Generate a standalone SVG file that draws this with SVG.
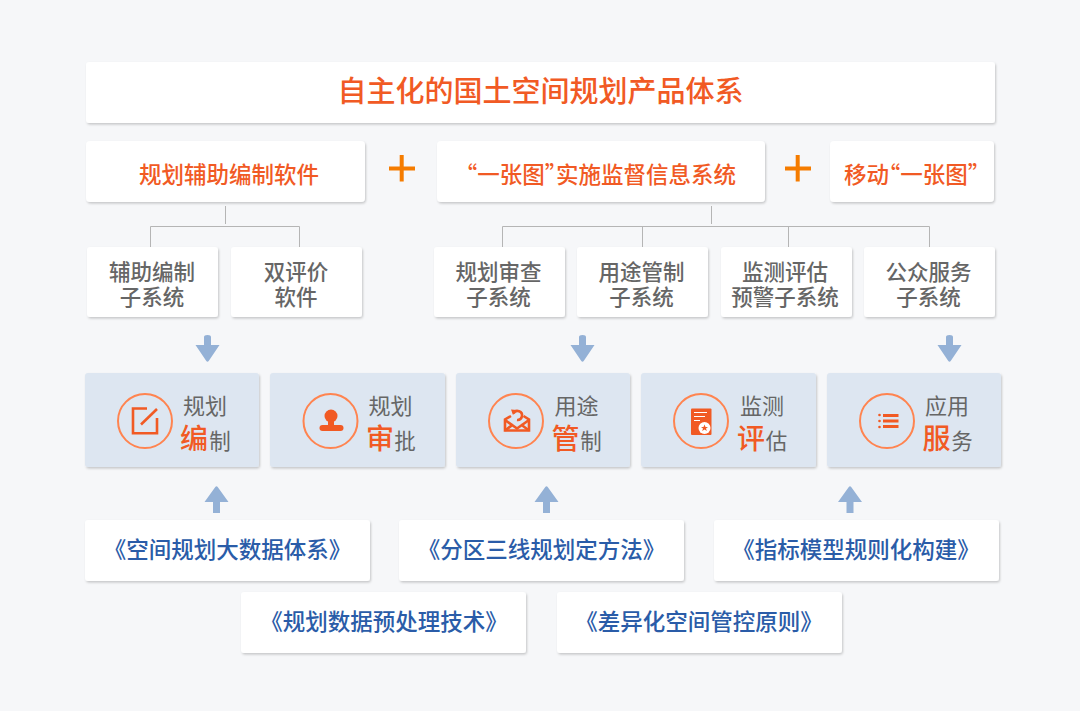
<svg xmlns="http://www.w3.org/2000/svg" width="1080" height="711" viewBox="0 0 1080 711">
<style>
text{font-family:"Noto Sans CJK SC","Noto Sans",sans-serif;font-weight:500;text-anchor:middle}
.w{fill:#fff;filter:url(#sh)}
.b{fill:#dde6f1;filter:url(#sh)}
.t{font-size:29px;fill:#f15a24}
.o{font-size:22.5px;fill:#f15a24}
.q{font-feature-settings:"halt"}
.g{font-size:21.5px;fill:#666}
.p{font-size:22.5px;fill:#2a5ca8}
.l{font-size:22px;fill:#666;font-weight:400}
.s{font-size:21.5px;fill:#666;font-weight:400}
.m{font-size:28px;fill:#f15a24;font-weight:500}
.c{fill:none;stroke:#ff8450;stroke-width:2}
.i{fill:#f15a24}
.is{fill:none;stroke:#f15a24;stroke-width:2.6}
.cn{fill:none;stroke:#b5b5b5;stroke-width:1}
.ar{fill:#94b1d6}
.pl{fill:#f57c00}
</style>
<defs>
<filter id="sh" x="-5%" y="-10%" width="110%" height="125%"><feDropShadow dx="1" dy="1.5" stdDeviation="1.2" flood-color="#000" flood-opacity="0.2"/></filter>
<path id="dn" d="M-3.5 -13Q-3.500 -15 0 -15Q3.500 -15 3.500 -13V-5H12L1.200 11Q0 12.500 -1.200 11L-12 -5H-3.500Z"/>
<path id="up" d="M-3.500 13V2H-12L-1.200 -13Q0 -14.500 1.200 -13L12 2H3.500V13Z"/>
</defs>
<rect width="1080" height="711" fill="#f6f7f9"/>
<g id="connectors">
<path class="cn" d="M225.500 206V224M150.500 247V226.500H299.500V247M711.500 206V224M502.500 247V226.500H929.500V247M642.500 226.500V247M788.500 226.500V247"/>
</g>
<g id="title"><rect class="w" x="86" y="62" width="909" height="61" rx="3"/><text class="t" x="540.500" y="102">自主化的国土空间规划产品体系</text></g>
<g id="top1"><rect class="w" x="86" y="141" width="279" height="61" rx="4"/><text class="o" x="229" y="183">规划辅助编制软件</text></g>
<g id="plus1"><path class="pl" d="M389 166.500H399.700V155H403.700V166.500H415V170.500H403.700V181.500H399.700V170.500H389Z"/></g>
<g id="top2"><rect class="w" x="437" y="141" width="328" height="61" rx="4"/><text class="o" x="601" y="183"><tspan class="q">“</tspan>一张图<tspan class="q">”</tspan>实施监督信息系统</text></g>
<g id="plus2"><path class="pl" d="M785 166.500H795.700V155H799.700V166.500H811V170.500H799.700V181.500H795.700V170.500H785Z"/></g>
<g id="top3"><rect class="w" x="830" y="141" width="164" height="61" rx="4"/><text class="o" x="911.500" y="183">移动<tspan class="q">“</tspan>一张图<tspan class="q">”</tspan></text></g>

<g id="sub1"><rect class="w" x="87" y="247" width="131" height="70" rx="3"/><text class="g" x="152" y="279.500">辅助编制</text><text class="g" x="152" y="305">子系统</text></g>
<g id="sub2"><rect class="w" x="231" y="247" width="131" height="70" rx="3"/><text class="g" x="296" y="279.500">双评价</text><text class="g" x="296" y="305">软件</text></g>
<g id="sub3"><rect class="w" x="434" y="247" width="131" height="70" rx="3"/><text class="g" x="498.500" y="279.500">规划审查</text><text class="g" x="498.500" y="305">子系统</text></g>
<g id="sub4"><rect class="w" x="577" y="247" width="131" height="70" rx="3"/><text class="g" x="641.500" y="279.500">用途管制</text><text class="g" x="641.500" y="305">子系统</text></g>
<g id="sub5"><rect class="w" x="721" y="247" width="131" height="70" rx="3"/><text class="g" x="785" y="279.500">监测评估</text><text class="g" x="785" y="305">预警子系统</text></g>
<g id="sub6"><rect class="w" x="864" y="247" width="131" height="70" rx="3"/><text class="g" x="928.500" y="279.500">公众服务</text><text class="g" x="928.500" y="305">子系统</text></g>

<g id="arrows">
<use href="#dn" class="ar" x="207.500" y="350"/><use href="#dn" class="ar" x="582.500" y="350"/><use href="#dn" class="ar" x="949.500" y="350"/>
<use href="#up" class="ar" x="216.500" y="500"/><use href="#up" class="ar" x="546.500" y="500"/><use href="#up" class="ar" x="850" y="500"/>
</g>

<g id="f1"><rect class="b" x="85" y="373" width="174" height="94" rx="3"/><circle class="c" cx="145" cy="421" r="27"/>
<path class="is" d="M147 408.500H133V433.300H157V418"/><path class="is" d="M141 424.500L157 409"/>
<text class="l" x="205" y="414">规划</text><text class="m" x="194" y="449">编</text><text class="s" x="220" y="449">制</text></g>
<g id="f2"><rect class="b" x="270" y="373" width="175" height="94" rx="3"/><circle class="c" cx="330.500" cy="421" r="27"/>
<circle class="i" cx="331" cy="416" r="6.500"/><rect class="i" x="328" y="419" width="6" height="8"/><rect class="i" x="319.500" y="425" width="24" height="6" rx="3"/>
<text class="l" x="390.500" y="414">规划</text><text class="m" x="380" y="449">审</text><text class="s" x="405" y="449">批</text></g>
<g id="f3"><rect class="b" x="456" y="373" width="174" height="94" rx="3"/><circle class="c" cx="516" cy="421" r="27"/>
<path class="is" d="M511 416L505 419.500V430.500H529V419.500L523.500 416"/><path class="is" d="M505 420L517 428.500L529 420M505 430.500L513 424.500M529 430.500L521 424.500"/>
<path class="is" d="M513.500 413.500A4.500 4.500 0 1 1 517 420" stroke-width="2.200"/><path class="i" d="M511 409.500L517 410L513 415Z"/>
<text class="l" x="576.500" y="414">用途</text><text class="m" x="565.500" y="449">管</text><text class="s" x="591" y="449">制</text></g>
<g id="f4"><rect class="b" x="641" y="373" width="175" height="94" rx="3"/><circle class="c" cx="701" cy="421" r="27"/>
<rect class="i" x="691" y="408.500" width="20.500" height="26.500" rx="1"/><path d="M694 412.500H707M694 416.500H705M694 420.500H700" stroke="#fff" stroke-width="1.200" fill="none"/><circle cx="704.500" cy="428" r="6" fill="#fff"/><path class="i" d="M704.500 424.500L705.500 427H708L706 428.600L706.800 431L704.500 429.600L702.200 431L703 428.600L701 427H703.500Z"/>
<text class="l" x="762" y="414">监测</text><text class="m" x="751" y="449">评</text><text class="s" x="776.500" y="449">估</text></g>
<g id="f5"><rect class="b" x="827" y="373" width="174" height="94" rx="3"/><circle class="c" cx="887" cy="421" r="27"/>
<path class="i" d="M883 414H898.500V417H883ZM883 419.500H898.500V422.500H883ZM883 425H898.500V428H883Z"/><circle class="i" cx="879.500" cy="415" r="1.300"/><circle class="i" cx="879.500" cy="421" r="1.300"/><circle class="i" cx="879.500" cy="427" r="1.300"/>
<text class="l" x="947" y="414">应用</text><text class="m" x="936.500" y="449">服</text><text class="s" x="962" y="449">务</text></g>

<g id="b1"><rect class="w" x="85" y="520" width="285" height="61" rx="3"/><text class="p" x="227.500" y="557.500">《空间规划大数据体系》</text></g>
<g id="b2"><rect class="w" x="399" y="520" width="285" height="61" rx="3"/><text class="p" x="541.500" y="557.500">《分区三线规划定方法》</text></g>
<g id="b3"><rect class="w" x="714" y="520" width="285" height="61" rx="3"/><text class="p" x="856" y="557.500">《指标模型规则化构建》</text></g>
<g id="b4"><rect class="w" x="241" y="592" width="285" height="61" rx="3"/><text class="p" x="384" y="629.500">《规划数据预处理技术》</text></g>
<g id="b5"><rect class="w" x="557" y="592" width="285" height="61" rx="3"/><text class="p" x="699" y="629.500">《差异化空间管控原则》</text></g>
</svg>
